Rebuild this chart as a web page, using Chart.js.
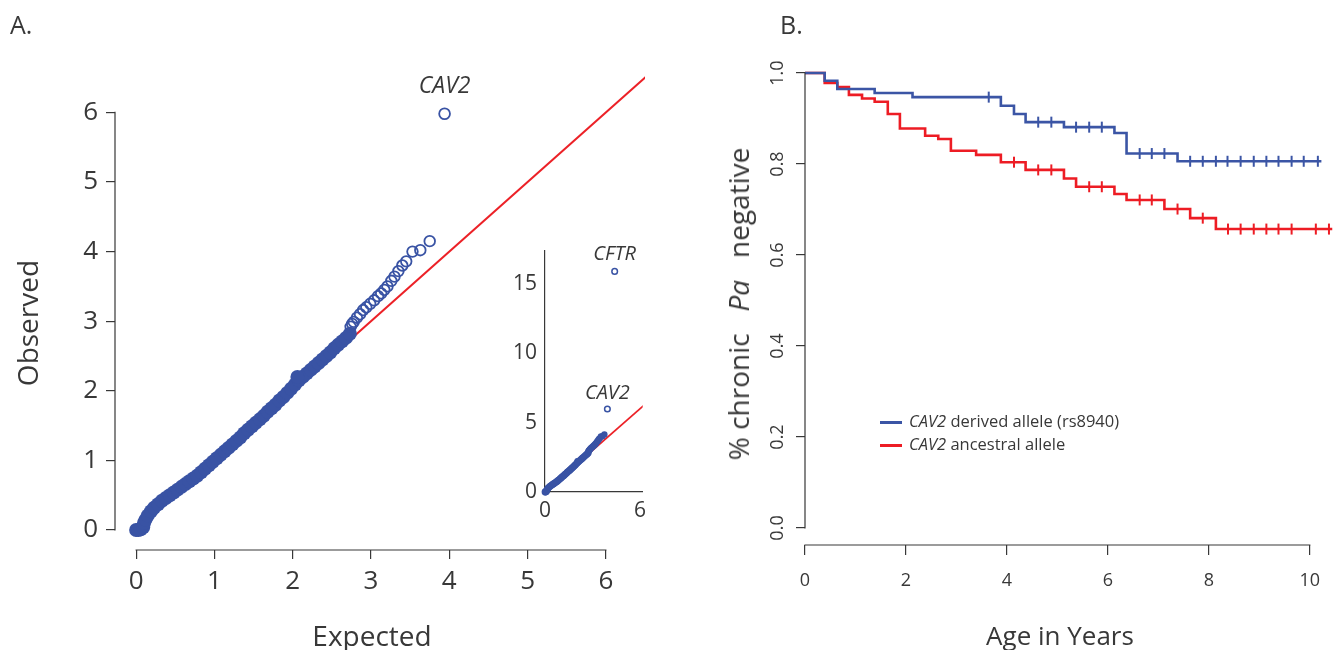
<!DOCTYPE html>
<html>
<head>
<meta charset="utf-8">
<script src="https://cdn.jsdelivr.net/npm/chart.js@4.4.1/dist/chart.umd.min.js"></script>
<style>
html,body{margin:0;padding:0;background:#fff;}
body{width:1340px;height:650px;position:relative;overflow:hidden;font-family:"Open Sans",sans-serif;color:#383838;}
canvas{position:absolute;}
.t{position:absolute;white-space:nowrap;color:#383838;line-height:1;}
.rot{transform:translate(-50%,-50%) rotate(-90deg);}
.ctr{transform:translate(-50%,-50%);}
.leg{position:absolute;font-size:16.5px;white-space:nowrap;color:#383838;line-height:1;}
.leg i{font-style:italic;}
.sw{position:absolute;width:22px;height:2.5px;}
</style>
</head>
<body>
<canvas id="cA" width="680" height="650" style="left:0;top:0"></canvas>
<canvas id="cI" width="180" height="300" style="left:490px;top:230px"></canvas>
<canvas id="cB" width="660" height="650" style="left:680px;top:0"></canvas>

<div class="t" style="left:10px;top:12px;font-size:25px;">A.</div>
<div class="t" style="left:780px;top:12px;font-size:25px;">B.</div>
<div class="t rot" style="left:27px;top:323px;font-size:28px;">Observed</div>
<div class="t ctr" style="left:372px;top:635px;font-size:28px;">Expected</div>
<div class="t rot" style="left:738px;top:304px;font-size:28px;">% chronic&nbsp;&nbsp; <i>Pa</i>&nbsp;&nbsp; negative</div>
<div class="t ctr" style="left:1060px;top:635px;font-size:26px;">Age in Years</div>

<div class="sw" style="left:880px;top:421px;background:#3b55a5;"></div>
<div class="leg" style="left:909px;top:413px;"><i>CAV2</i> derived allele (rs8940)</div>
<div class="sw" style="left:880px;top:444px;background:#ed1c24;"></div>
<div class="leg" style="left:909px;top:436px;"><i>CAV2</i> ancestral allele</div>

<script>
// ---------------- Panel A: QQ plot (-log10 P) ----------------
const qqExpected = [0, 0.03, 0.06, 0.09, 0.10, 0.12, 0.15, 0.19, 0.23, 0.28,
  0.33, 0.38, 0.43, 0.48, 0.53, 0.58, 0.63, 0.68, 0.73, 0.78, 0.83, 0.88, 0.93, 0.98,
  1.03, 1.08, 1.13, 1.18, 1.23, 1.28, 1.33, 1.38, 1.43, 1.48, 1.53, 1.58, 1.63, 1.68, 1.73, 1.78, 1.83, 1.88, 1.93, 1.98,
  2.03, 2.08, 2.13, 2.18, 2.23, 2.28, 2.33, 2.38, 2.43, 2.48, 2.53, 2.58, 2.63, 2.68, 2.73, 2.06];
const qqObserved = [0, 0.00, 0.01, 0.04, 0.10, 0.15, 0.21, 0.27, 0.32, 0.37,
  0.42, 0.46, 0.50, 0.54, 0.58, 0.62, 0.66, 0.70, 0.74, 0.78, 0.83, 0.88, 0.93, 0.98,
  1.03, 1.08, 1.13, 1.18, 1.23, 1.28, 1.33, 1.39, 1.44, 1.49, 1.54, 1.59, 1.64, 1.70, 1.75, 1.80, 1.86, 1.91, 1.97, 2.03,
  2.09, 2.15, 2.20, 2.25, 2.30, 2.35, 2.40, 2.45, 2.50, 2.55, 2.61, 2.66, 2.71, 2.76, 2.82, 2.20];
const tailExpected = [2.74, 2.76, 2.78, 2.82, 2.86, 2.90, 2.94, 2.99, 3.04, 3.09, 3.13, 3.17, 3.21, 3.26, 3.30, 3.35, 3.40, 3.45, 3.53, 3.63, 3.75];
const tailObserved = [2.92, 2.96, 2.99, 3.05, 3.10, 3.16, 3.20, 3.25, 3.30, 3.36, 3.40, 3.45, 3.50, 3.58, 3.64, 3.72, 3.80, 3.86, 4.00, 4.02, 4.15];
const cav2Point = [3.94, 5.98];
const cftrPoint = [4.40, 15.9];
const nullLine = [0, 6.6];
const insetNullLine = [0, 6.3];
const qqTicks = [0, 1, 2, 3, 4, 5, 6];
const insetXTicks = [0, 6];
const insetYTicks = [0, 5, 10, 15];

// ---------------- Panel B: Kaplan-Meier ----------------
const derivedTimes = [0, 0.39, 0.64, 1.38, 2.13, 3.88, 4.14, 4.37, 5.13, 6.13, 6.37, 7.38, 10.23];
const derivedSurv  = [1.0, 0.983, 0.965, 0.956, 0.947, 0.928, 0.910, 0.892, 0.881, 0.868, 0.823, 0.806, 0.806];
const derivedCensor = [3.64, 4.62, 4.88, 5.37, 5.63, 5.88, 6.63, 6.87, 7.12, 7.63, 7.88, 8.14, 8.37, 8.63, 8.89, 9.14, 9.38, 9.64, 9.88, 10.16];
const ancestralTimes = [0, 0.39, 0.64, 0.87, 1.13, 1.38, 1.64, 1.88, 2.38, 2.64, 2.89, 3.39, 3.88, 4.37, 5.13, 5.37, 6.13, 6.37, 7.12, 7.63, 8.14, 10.45];
const ancestralSurv  = [1.0, 0.978, 0.969, 0.952, 0.944, 0.937, 0.910, 0.878, 0.862, 0.855, 0.829, 0.820, 0.804, 0.787, 0.768, 0.750, 0.734, 0.721, 0.701, 0.681, 0.657, 0.657];
const ancestralCensor = [4.14, 4.62, 4.88, 5.63, 5.88, 6.63, 6.87, 7.38, 7.88, 8.38, 8.63, 8.89, 9.14, 9.38, 9.64, 10.12, 10.38];
const kmXTicks = [0, 2, 4, 6, 8, 10];
const kmYTicks = [0, 0.2, 0.4, 0.6, 0.8, 1.0];

// ---------------- styling ----------------
const BLUE = '#3953a4', RED = '#ec2127', KBLUE = '#3b55a5', KRED = '#ed1c24', INK = '#383838';
const FONT = '"Open Sans", sans-serif';

const pts = (xs, ys) => xs.map((x, i) => ({x, y: ys[i]}));
const levelAt = (times, surv, t) => { let s = surv[0]; for (let i = 0; i < times.length; i++) { if (times[i] <= t) s = surv[i]; } return s; };
const setTicks = arr => (s => { s.ticks = arr.map(v => ({value: v})); });

function rAxisPlugin(opts) {
  return {
    id: 'rAxis',
    afterDraw(chart) {
      const {ctx, chartArea: a, scales: {x, y}} = chart;
      ctx.save();
      ctx.strokeStyle = INK; ctx.lineWidth = 1.2;
      const xs = x.ticks.map(t => x.getPixelForValue(t.value));
      const ys = y.ticks.map(t => y.getPixelForValue(t.value));
      ctx.beginPath();
      ctx.moveTo(a.left, Math.min(...ys) - 0.6); ctx.lineTo(a.left, Math.max(...ys) + 0.6);
      ctx.moveTo(Math.min(...xs) - 0.6, a.bottom); ctx.lineTo(Math.max(...xs) + 0.6, a.bottom);
      ctx.stroke();
      if (opts.rotY) {
        ctx.fillStyle = INK; ctx.font = opts.rotY.font;
        ctx.textAlign = 'center'; ctx.textBaseline = 'alphabetic';
        y.ticks.forEach(t => {
          const py = y.getPixelForValue(t.value);
          ctx.save(); ctx.translate(a.left - opts.rotY.offset, py); ctx.rotate(-Math.PI / 2);
          ctx.fillText(Number(t.value).toFixed(1), 0, 0); ctx.restore();
        });
      }
      ctx.restore();
    }
  };
}
function labelPlugin(items) {
  return {
    id: 'ptLabels',
    afterDatasetsDraw(chart) {
      const {ctx, scales: {x, y}} = chart;
      ctx.save(); ctx.fillStyle = INK; ctx.textAlign = 'center'; ctx.textBaseline = 'middle';
      items.forEach(it => {
        ctx.font = it.font;
        ctx.fillText(it.text, x.getPixelForValue(it.at[0]), y.getPixelForValue(it.at[1]) - it.dy);
      });
      ctx.restore();
    }
  };
}
const baseOpts = {
  responsive: false, animation: false, events: [],
  plugins: {legend: {display: false}, tooltip: {enabled: false}}
};

function build() {
  Chart.defaults.font.family = FONT;
  Chart.defaults.color = INK;

  // ---- main QQ ----
  new Chart(document.getElementById('cA'), {
    type: 'scatter',
    data: {datasets: [
      {type: 'line', data: pts(nullLine, nullLine), borderColor: RED, borderWidth: 2, pointRadius: 0, order: 3},
      {data: pts(qqExpected, qqObserved), pointRadius: 7, pointBackgroundColor: BLUE, pointBorderColor: BLUE, pointBorderWidth: 0, order: 2, clip: false},
      {data: pts(tailExpected, tailObserved), pointRadius: 5.3, pointBackgroundColor: 'rgba(0,0,0,0)', pointBorderColor: BLUE, pointBorderWidth: 1.8, order: 1, clip: false},
      {data: [{x: cav2Point[0], y: cav2Point[1]}], pointRadius: 5.4, pointBackgroundColor: 'rgba(0,0,0,0)', pointBorderColor: BLUE, pointBorderWidth: 1.8, order: 0, clip: false}
    ]},
    options: Object.assign({}, baseOpts, {
      layout: {padding: {left: 0, top: 70.6, right: 35, bottom: 0}},
      scales: {
        x: {type: 'linear', min: -0.27, max: 6.5, afterBuildTicks: setTicks(qqTicks), afterFit: s => { s.height = 100; },
            grid: {display: true, drawOnChartArea: false, tickLength: 9, color: INK, lineWidth: 1.2}, border: {display: false},
            ticks: {font: {size: 26}, padding: 7, maxRotation: 0, autoSkip: false, color: INK}},
        y: {type: 'linear', min: -0.287, max: 6.6, afterBuildTicks: setTicks(qqTicks), afterFit: s => { s.width = 115; },
            grid: {display: true, drawOnChartArea: false, tickLength: 9, color: INK, lineWidth: 1.2}, border: {display: false},
            ticks: {font: {size: 26}, padding: 8, autoSkip: false, color: INK}}
      }
    }),
    plugins: [rAxisPlugin({}), labelPlugin([{text: 'CAV2', at: cav2Point, dy: 27, font: 'italic 23px ' + FONT}])]
  });

  // ---- inset QQ (with CFTR) ----
  new Chart(document.getElementById('cI'), {
    type: 'scatter',
    data: {datasets: [
      {type: 'line', data: pts(insetNullLine, insetNullLine), borderColor: RED, borderWidth: 1.8, pointRadius: 0, order: 3},
      {data: pts(qqExpected, qqObserved), pointRadius: 3.4, pointBackgroundColor: BLUE, pointBorderColor: BLUE, pointBorderWidth: 0, order: 2, clip: false},
      {data: pts(tailExpected, tailObserved), pointRadius: 3.2, pointBackgroundColor: BLUE, pointBorderColor: BLUE, pointBorderWidth: 0, order: 1, clip: false},
      {data: [{x: cav2Point[0], y: cav2Point[1]}, {x: cftrPoint[0], y: cftrPoint[1]}], pointRadius: 2.8, pointBackgroundColor: 'rgba(0,0,0,0)', pointBorderColor: BLUE, pointBorderWidth: 1.5, order: 0, clip: false}
    ]},
    options: Object.assign({}, baseOpts, {
      layout: {padding: {left: 0, top: 18, right: 27.3, bottom: 0}},
      scales: {
        x: {type: 'linear', min: 0, max: 6.17, afterBuildTicks: setTicks(insetXTicks), afterFit: s => { s.height = 38; },
            grid: {display: false, drawTicks: false}, border: {display: true, color: INK, width: 1.2},
            ticks: {font: {size: 21}, padding: 6, maxRotation: 0, autoSkip: false, color: INK}},
        y: {type: 'linear', min: 0, max: 17.4, afterBuildTicks: setTicks(insetYTicks), afterFit: s => { s.width = 55; },
            grid: {display: false, drawTicks: false}, border: {display: true, color: INK, width: 1.2},
            ticks: {font: {size: 21}, padding: 8, autoSkip: false, color: INK}}
      }
    }),
    plugins: [labelPlugin([
      {text: 'CFTR', at: cftrPoint, dy: 17, font: 'italic 20px ' + FONT},
      {text: 'CAV2', at: cav2Point, dy: 16, font: 'italic 20px ' + FONT}
    ])]
  });

  // ---- Kaplan-Meier ----
  const censorPts = (c, t, s) => c.map(v => ({x: v, y: levelAt(t, s, v)}));
  new Chart(document.getElementById('cB'), {
    type: 'line',
    data: {datasets: [
      {data: pts(ancestralTimes, ancestralSurv), stepped: 'before', borderColor: KRED, borderWidth: 2.6, pointRadius: 0, fill: false, order: 3},
      {type: 'scatter', data: censorPts(ancestralCensor, ancestralTimes, ancestralSurv), pointStyle: 'line', rotation: 90, pointRadius: 5.5, pointBorderColor: KRED, pointBorderWidth: 2, order: 2, clip: false},
      {data: pts(derivedTimes, derivedSurv), stepped: 'before', borderColor: KBLUE, borderWidth: 2.6, pointRadius: 0, fill: false, order: 1},
      {type: 'scatter', data: censorPts(derivedCensor, derivedTimes, derivedSurv), pointStyle: 'line', rotation: 90, pointRadius: 5.5, pointBorderColor: KBLUE, pointBorderWidth: 2, order: 0, clip: false}
    ]},
    options: Object.assign({}, baseOpts, {
      layout: {padding: {left: 0, top: 55, right: 2, bottom: 0}},
      scales: {
        x: {type: 'linear', min: 0, max: 10.45, afterBuildTicks: setTicks(kmXTicks), afterFit: s => { s.height = 105; },
            grid: {display: true, drawOnChartArea: false, tickLength: 10, color: INK, lineWidth: 1.2}, border: {display: false},
            ticks: {font: {size: 18}, padding: 15, maxRotation: 0, autoSkip: false, color: INK}},
        y: {type: 'linear', min: -0.0374, max: 1.0396, afterBuildTicks: setTicks(kmYTicks), afterFit: s => { s.width = 125; },
            grid: {display: true, drawOnChartArea: false, tickLength: 9, color: INK, lineWidth: 1.2}, border: {display: false},
            ticks: {display: false}}
      }
    }),
    plugins: [rAxisPlugin({rotY: {font: '18px ' + FONT, offset: 22}})]
  });
}

const ready = (document.fonts && document.fonts.load)
  ? Promise.all([document.fonts.load('26px "Open Sans"'), document.fonts.load('italic 23px "Open Sans"')]).catch(() => {})
  : Promise.resolve();
ready.then(build, build);
</script>
</body>
</html>
